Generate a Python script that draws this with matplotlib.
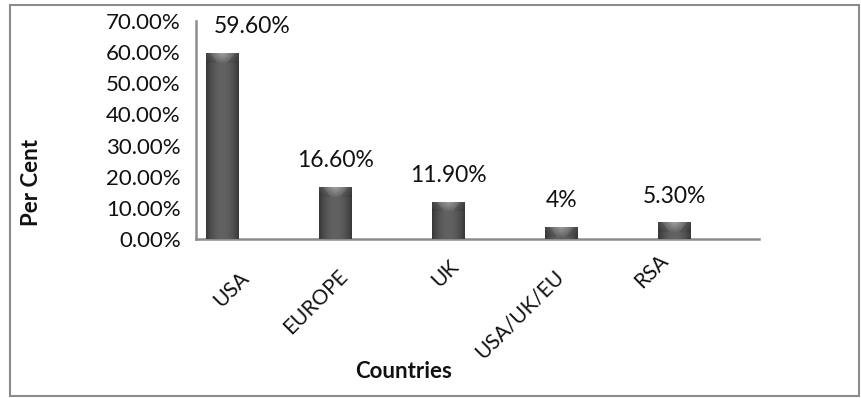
import numpy as np
import matplotlib
matplotlib.use("Agg")
import matplotlib.pyplot as plt
from matplotlib.patches import Rectangle
from matplotlib.colors import to_rgb
from matplotlib.transforms import ScaledTranslation

plt.rcParams['font.family'] = ['Lato', 'DejaVu Sans']

# Data
countries = ["USA", "EUROPE", "UK", "USA/UK/EU", "RSA"]
share_pct = [59.6, 16.6, 11.9, 4.0, 5.3]
value_labels = ["59.60%", "16.60%", "11.90%", "4%", "5.30%"]
y_ticks = [0, 10, 20, 30, 40, 50, 60, 70]
y_tick_labels = ["0.00%", "10.00%", "20.00%", "30.00%", "40.00%",
                 "50.00%", "60.00%", "70.00%"]

# Layout tweaks (pixels) for category and value labels
cat_shift = [(24, 36), (10, 34), (7, 24), (0, 34), (-9, 19)]
value_shift_x = [30, 0, 0, 0, 0]

W, H, DPI = 862, 398, 100
fig = plt.figure(figsize=(W / DPI, H / DPI), dpi=DPI)
fig.patch.set_facecolor("white")

# outer chart frame
fig.patches.append(Rectangle((10 / W, 1 - 396 / H), 849 / W, 391 / H,
                             transform=fig.transFigure, fill=False,
                             edgecolor="#8c8c8c", linewidth=1.5, zorder=0))

ax = fig.add_axes([196 / W, 1 - 239 / H, (759 - 196) / W, (239 - 21) / H])
x = np.arange(len(countries))
bar_w = 0.29
ax.set_xlim(-0.23, 4.75)
ax.set_ylim(0, 70)

bars = ax.bar(x, share_pct, width=bar_w, color="#505050", zorder=2)

# cylinder-like shading with a bevelled highlight on top of every bar
px_per_unit = (239 - 21) / 70.0
edge = np.array(to_rgb("#363636"))
mid = np.array(to_rgb("#626262"))
hi = np.array(to_rgb("#b4b4b4"))
ncol = 40
u = (np.arange(ncol) + 0.5) / ncol
prof = np.abs(u - 0.5) * 2
for rect in bars:
    h = rect.get_height()
    nrow = max(int(round(h * px_per_unit)), 2)
    base = mid[None, :] * (1 - prof[:, None] ** 2) + edge[None, :] * prof[:, None] ** 2
    img = np.repeat(base[None, :, :], nrow, axis=0)
    cap = min(10, nrow)
    for d in range(cap):
        t = d / 10.0
        half = 0.5 - 0.12 - 0.25 * t
        mask = np.abs(u - 0.5) < half
        a = 0.75 * (1 - t) * np.clip(1 - prof, 0.3, 1)
        img[d, mask] = img[d, mask] * (1 - a[mask, None]) + hi * a[mask, None]
        img[d, ~mask] = img[d, ~mask] * 0.9 + hi * 0.1 * (1 - t)
    x0 = rect.get_x()
    im = ax.imshow(img, extent=(x0, x0 + rect.get_width(), 0, h),
                   origin="upper", aspect="auto", interpolation="bilinear",
                   zorder=3)
    im.set_clip_path(rect)

# value labels
for xi, v, lab, dx in zip(x, share_pct, value_labels, value_shift_x):
    ax.annotate(lab, (xi, v), xytext=(dx * 0.72, 19), textcoords="offset points",
                ha="center", va="center", fontsize=16.5, color="#111111",
                annotation_clip=False, zorder=5)

for side in ("top", "right"):
    ax.spines[side].set_visible(False)
for side in ("left", "bottom"):
    ax.spines[side].set_color("#8c8c8c")
    ax.spines[side].set_linewidth(1.8)

ax.set_yticks(y_ticks)
ax.set_yticklabels(y_tick_labels, fontsize=16, color="#111111")
ax.tick_params(axis="y", length=0, pad=11)

ax.set_xticks(x)
ax.set_xticklabels(countries, fontsize=15, color="#111111", rotation=45,
                   ha="right", va="center", rotation_mode="anchor")
ax.tick_params(axis="x", length=0, pad=0)
for lbl, (dx, dy) in zip(ax.get_xticklabels(), cat_shift):
    lbl.set_transform(lbl.get_transform() +
                      ScaledTranslation(dx / DPI, -dy / DPI, fig.dpi_scale_trans))

ax.set_ylabel("Per Cent", fontsize=16, fontweight="bold", color="#111111",
              va="center")
ax.yaxis.set_label_coords((32 - 196) / (759 - 196), (239 - 183) / (239 - 21))
fig.text(404 / W, 1 - 372 / H, "Countries", ha="center", va="center",
         fontsize=16, fontweight="bold", color="#111111")

fig.savefig("out.png", dpi=DPI, facecolor="white")
